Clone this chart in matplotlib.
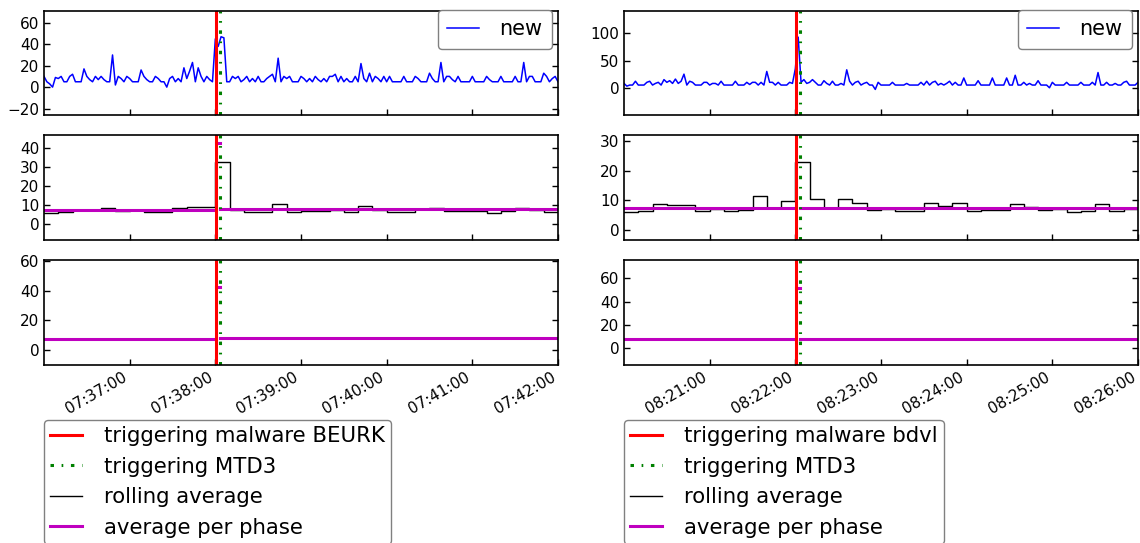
import numpy as np
import pandas as pd
import matplotlib
matplotlib.use("Agg")
import matplotlib.pyplot as plt

plt.rcParams['font.family'] = ['DejaVu Sans']
plt.rcParams['lines.scale_dashes'] = False

# --- BEURK run (left column) ---
beurk_start = "2017-05-10 07:36:00"
beurk_new = [
    10, 5, 3, 0, 9, 8, 10, 5, 5, 10,
    12, 5, 5, 5, 17, 10, 7, 5, 10, 7,
    10, 7, 5, 5, 30, 2, 10, 8, 5, 10,
    8, 5, 5, 5, 16, 10, 7, 5, 5, 10,
    8, 5, 5, 0, 8, 10, 5, 8, 5, 18,
    8, 15, 23, 5, 18, 10, 5, 10, 7, 5,
    45, 38, 47, 46, 5, 5, 10, 8, 10, 5,
    7, 10, 5, 8, 5, 10, 5, 5, 8, 10,
    12, 5, 27, 5, 10, 8, 10, 5, 5, 5,
    10, 8, 5, 8, 5, 10, 7, 5, 8, 5,
    10, 10, 12, 5, 10, 5, 8, 5, 5, 10,
    5, 22, 8, 5, 13, 5, 10, 8, 5, 10,
    5, 10, 5, 5, 5, 5, 10, 5, 5, 5,
    10, 8, 5, 5, 5, 13, 8, 5, 5, 23,
    5, 10, 10, 7, 5, 10, 5, 5, 5, 5,
    10, 5, 5, 5, 5, 10, 7, 5, 5, 5,
    10, 5, 5, 5, 5, 10, 5, 5, 23, 5,
    10, 10, 5, 5, 5, 13, 10, 5, 8, 10,
    5,
]
beurk_rolling = [6, 6.5, 7.5, 7.3, 8.3, 7, 7.5, 6.5, 6.3, 8.5, 9, 9.3,
                 33, 7.5, 6.5, 6.5, 10.5, 6.5, 7, 7, 7.5, 6.5, 9.5, 7.5,
                 6.3, 6.5, 8, 8.7, 7, 6.8, 6.8, 5.8, 6.8, 8.5, 7.3, 6.5]
beurk_trigger = "2017-05-10 07:38:00.5"
beurk_mtd = "2017-05-10 07:38:03.5"
beurk_phase_avg = [7.3, 42.7, 7.8]
beurk_ticks = ["07:37:00", "07:38:00", "07:39:00", "07:40:00", "07:41:00", "07:42:00"]

# --- bdvl run (right column) ---
bdvl_start = "2017-05-10 08:20:00"
bdvl_new = [
    8, 3, 5, 5, 12, 5, 5, 5, 10, 12,
    5, 8, 10, 5, 15, 10, 13, 8, 16, 8,
    12, 25, 5, 12, 10, 5, 5, 5, 10, 10,
    5, 8, 8, 5, 12, 5, 5, 5, 5, 12,
    5, 5, 5, 10, 6, 10, 10, 5, 10, 5,
    30, 10, 10, 5, 10, 5, 5, 5, 10, 8,
    35, 93, 10, 15, 8, 10, 15, 10, 5, 5,
    13, 8, 5, 12, 5, 5, 8, 5, 33, 12,
    5, 10, 12, 5, 8, 10, 5, 5, -3, 10,
    5, 5, 5, 5, 10, 5, 5, 5, 5, 8,
    5, 5, 5, 5, 10, 5, 12, 5, 10, 12,
    5, 8, 5, 8, 12, 5, 10, 5, 5, 18,
    5, 5, 5, 5, 13, 5, 5, 5, 5, 18,
    5, 5, 5, 5, 18, 5, 5, 23, 5, 5,
    10, 5, 8, 5, 5, 13, 5, 5, 5, 0,
    10, 5, 5, 5, 5, 10, 5, 5, 5, 5,
    10, 5, 5, 5, 10, 5, 28, 5, 5, 10,
    5, 5, 8, 5, 5, 10, 12, 5, 5, 5,
    10,
]
bdvl_rolling = [6, 6.5, 8.8, 8.6, 8.4, 6.5, 7, 6.5, 6.8, 11.5, 7.5, 9.7,
                23, 10.5, 7.3, 10.5, 9, 6.8, 7, 6.5, 6.5, 9.2, 8, 9.2,
                6.5, 6.7, 6.8, 8.7, 7.8, 6.8, 7, 6, 6.5, 8.7, 6.5, 7]
bdvl_trigger = "2017-05-10 08:22:00.5"
bdvl_mtd = "2017-05-10 08:22:03.3"
bdvl_phase_avg = [7.5, 52, 7.5]
bdvl_ticks = ["08:21:00", "08:22:00", "08:23:00", "08:24:00", "08:25:00", "08:26:00"]

ylims = {
    "beurk": [(-26, 71), (-8.3, 47), (-10, 60.5)],
    "bdvl": [(-50, 141), (-3.3, 32), (-15, 76)],
}
yticks = {
    "beurk": [[-20, 0, 20, 40, 60], [0, 10, 20, 30, 40], [0, 20, 40, 60]],
    "bdvl": [[0, 50, 100], [0, 10, 20, 30], [0, 20, 40, 60]],
}

MTD_DASHES = (2.5, 5.5, 1.2, 5.5)

fig = plt.figure(figsize=(11.4, 5.43), dpi=100)
W, H = 1140.0, 543.0
rows_px = [(11, 115), (135, 240), (260, 365)]


def style_axes(ax):
    ax.tick_params(direction='in', length=4, labelsize=11, top=False,
                   right=True, width=1)
    for sp in ax.spines.values():
        sp.set_linewidth(1.2)


def draw_column(x0, x1, key, start, new, rolling, trigger, mtd, phase_avg,
                ticks, malware):
    t0 = pd.Timestamp(start)
    times = pd.date_range(t0, periods=len(new), freq='2s')
    t_end = times[-1]
    roll_t = list(pd.date_range(t0, periods=len(rolling), freq='10s')) + [t_end]
    roll_v = list(rolling) + [rolling[-1]]
    trig = pd.Timestamp(trigger)
    mt = pd.Timestamp(mtd)
    phase_edges = [(t0, trig), (trig, mt), (mt, t_end)]
    day = t0.strftime("%Y-%m-%d ")
    tick_pos = [pd.Timestamp(day + s) for s in ticks]

    axes = []
    for ya, yb in rows_px:
        ax = fig.add_axes([x0 / W, 1 - yb / H, (x1 - x0) / W, (yb - ya) / H])
        axes.append(ax)

    ax_new, ax_roll, ax_phase = axes
    ax_new.plot(times, new, color='b', lw=1.1, label='new')
    ax_roll.step(roll_t, roll_v, where='post', color='k', lw=1)
    for ax in (ax_roll, ax_phase):
        for (a, b), v in zip(phase_edges, phase_avg):
            ax.plot([a, b], [v, v], color='m', lw=2.2)

    for ax in axes:
        ax.axvline(trig, color='r', lw=2.2)
        ax.axvline(mt, color='g', lw=2.2, ls='-.', dashes=MTD_DASHES)

    for i, ax in enumerate(axes):
        ax.set_xlim(t0, t_end)
        ax.set_ylim(*ylims[key][i])
        ax.set_yticks(yticks[key][i])
        ax.set_xticks(tick_pos)
        style_axes(ax)
        if i < 2:
            ax.set_xticklabels([])
        else:
            ax.set_xticklabels(ticks, rotation=30, ha='right')

    width = x1 - x0
    ax_new.legend(loc='upper right', bbox_to_anchor=(1 - 6 / width, 1.01),
                  borderaxespad=0, fontsize=15, handlelength=1.5,
                  handletextpad=1.0, borderpad=0.45, framealpha=1,
                  edgecolor='0.5', fancybox=True)

    handles = [
        plt.Line2D([], [], color='r', lw=2.2),
        plt.Line2D([], [], color='g', lw=2.2, ls='-.', dashes=MTD_DASHES),
        plt.Line2D([], [], color='k', lw=1),
        plt.Line2D([], [], color='m', lw=2.2),
    ]
    labels = ['triggering malware ' + malware, 'triggering MTD3',
              'rolling average', 'average per phase']
    ax_phase.legend(handles, labels, loc='upper left',
                    bbox_to_anchor=(0.0, -0.52), borderaxespad=0,
                    fontsize=15.3, handlelength=1.5, handletextpad=1.0,
                    borderpad=0.3, framealpha=1, edgecolor='0.5',
                    fancybox=True)


draw_column(44, 558, "beurk", beurk_start, beurk_new, beurk_rolling,
            beurk_trigger, beurk_mtd, beurk_phase_avg, beurk_ticks, 'BEURK')
draw_column(624, 1138, "bdvl", bdvl_start, bdvl_new, bdvl_rolling,
            bdvl_trigger, bdvl_mtd, bdvl_phase_avg, bdvl_ticks, 'bdvl')

fig.savefig('out.png', dpi=100)
